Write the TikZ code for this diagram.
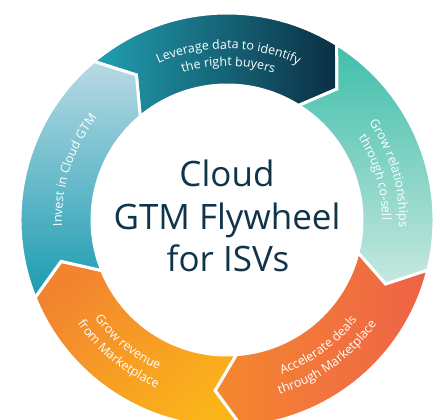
\documentclass[tikz,border=0pt]{standalone}
\usepackage{fontspec}
\setmainfont{Open Sans}
\usetikzlibrary{decorations.text}
\definecolor{topA}{HTML}{21A0B1}
\definecolor{topB}{HTML}{0B2E43}
\definecolor{grnA}{HTML}{3FBEAA}
\definecolor{grnB}{HTML}{C6E8DF}
\definecolor{redA}{HTML}{F5882F}
\definecolor{redB}{HTML}{EE6248}
\definecolor{yelA}{HTML}{F2842F}
\definecolor{yelB}{HTML}{FBB419}
\definecolor{bluA}{HTML}{B8DAE5}
\definecolor{bluB}{HTML}{1A9BB0}
\definecolor{titlecol}{HTML}{10344A}
\newcommand\segfont{\fontsize{12.5}{15}\selectfont}
\newcommand\segpath[2]{(#1:207pt) arc[start angle=#1, end angle=#2, radius=207pt] -- ({#2-8}:171pt) -- (#2:135pt) arc[start angle=#2, end angle=#1, radius=135pt] -- ({#1-8}:171pt) -- cycle}
\tikzset{
  seg/.style={draw=white, line width=3pt, line join=miter},
  segtext/.style={decorate, decoration={text along path, text align=center, text color=white, text={#1}}},
  title/.style={anchor=base, text=titlecol, font=\fontsize{35}{42}\selectfont, inner sep=0pt}
}
\begin{document}
\begin{tikzpicture}
\useasboundingbox (-227pt,-200pt) rectangle (213pt,220pt);
\clip (-227pt,-200pt) rectangle (213pt,220pt);
% segments
\shadedraw[seg, left color=topA, right color=topB] \segpath{130}{58};
\shadedraw[seg, top color=grnA, bottom color=grnB] \segpath{58}{-14};
\shadedraw[seg, left color=redA, right color=redB] \segpath{-14}{-86};
\shadedraw[seg, shading=axis, top color=yelA, bottom color=yelB, shading angle=40] \segpath{274}{202};
\shadedraw[seg, top color=bluA, bottom color=bluB] \segpath{202}{130};
% segment texts
\path[segtext={|\segfont|Leverage data to identify}] (149.5:171pt) arc[start angle=149.5, end angle=29.5, radius=171pt];
\path[segtext={|\segfont|the right buyers}] (149.5:154pt) arc[start angle=149.5, end angle=29.5, radius=154pt];
\path[segtext={|\segfont|Grow relationships}] (76:172pt) arc[start angle=76, end angle=-44, radius=172pt];
\path[segtext={|\segfont|through co-sell}] (76:155pt) arc[start angle=76, end angle=-44, radius=155pt];
\path[segtext={|\segfont|Accelerate deals}] (-114:164pt) arc[start angle=-114, end angle=6, radius=164pt];
\path[segtext={|\segfont|through Marketplace}] (-114:182pt) arc[start angle=-114, end angle=6, radius=182pt];
\path[segtext={|\segfont|Grow revenue}] (171:165pt) arc[start angle=171, end angle=291, radius=165pt];
\path[segtext={|\segfont|from Marketplace}] (171:182pt) arc[start angle=171, end angle=291, radius=182pt];
\path[segtext={|\segfont|Invest in Cloud GTM}] (222:165pt) arc[start angle=222, end angle=102, radius=165pt];
% title
\node[title] (t1) at (0pt,33pt) {Cloud};
\node[title] (t2) at (0pt,-10pt) {GTM Flywheel};
\node[title] (t3) at (1pt,-52pt) {for ISVs};
\end{tikzpicture}
\end{document}
